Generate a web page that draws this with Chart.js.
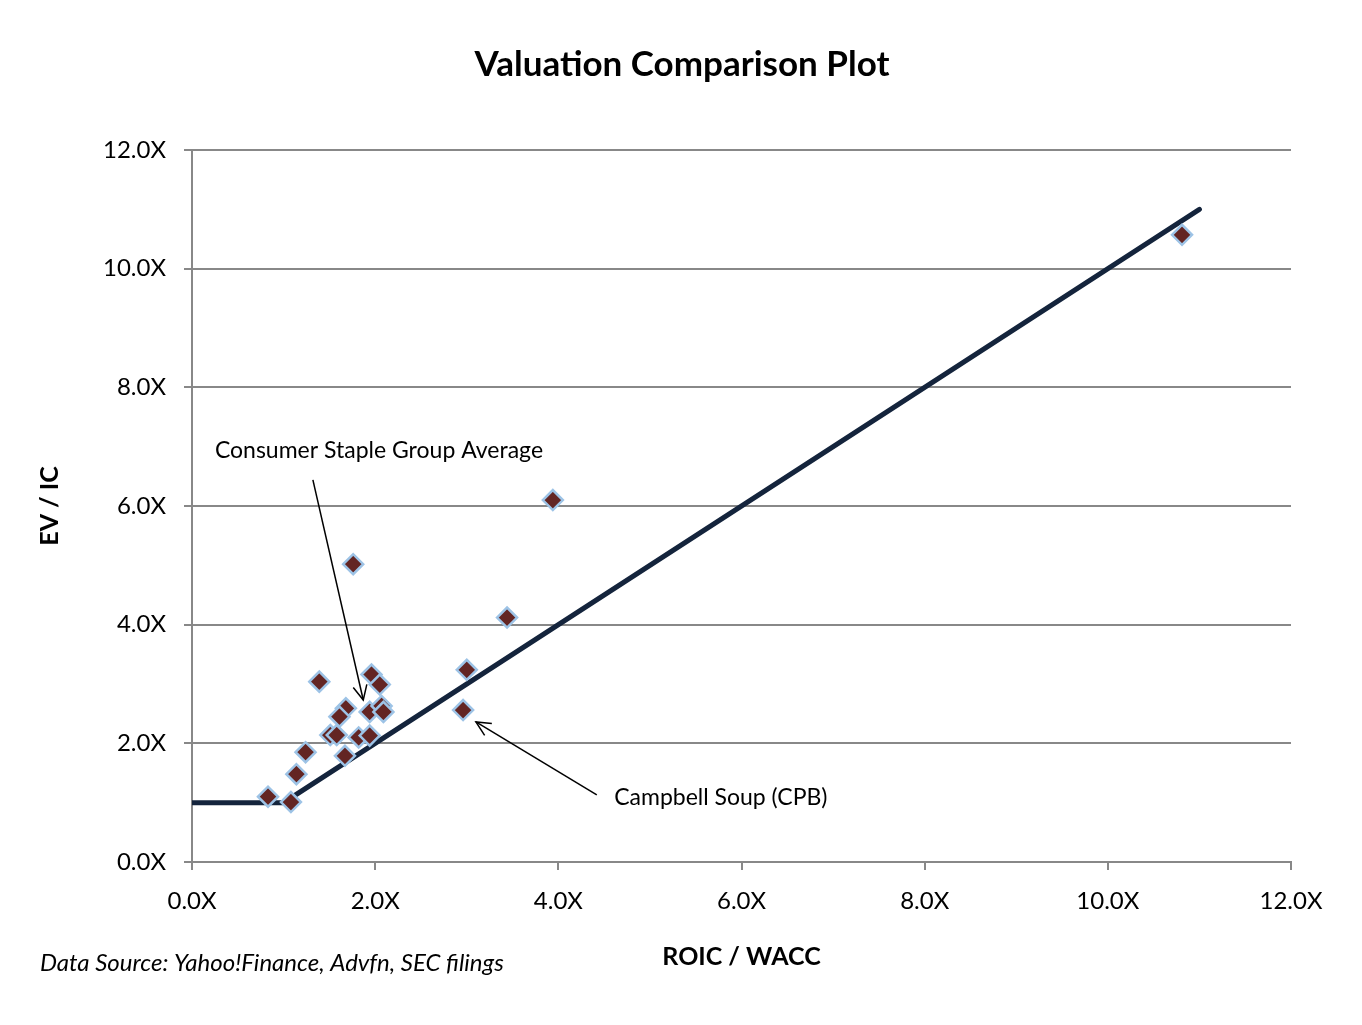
<!DOCTYPE html>
<html>
<head>
<meta charset="utf-8">
<title>Valuation Comparison Plot</title>
<script src="https://cdn.jsdelivr.net/npm/chart.js@4/dist/chart.umd.min.js"></script>
<style>
  html, body { margin: 0; padding: 0; background: #fff; }
  #wrap { width: 1362px; height: 1025px; position: relative; }
</style>
</head>
<body>
<div id="wrap"><canvas id="chart" width="1362" height="1025"></canvas></div>
<script>
/* ---------- Data ---------- */
const roicWacc = [1.76, 1.39, 1.96, 2.05, 1.68, 1.61, 1.94, 2.07, 2.09, 1.51, 1.58, 1.82, 1.94, 1.24, 1.67, 1.14, 0.83, 1.08, 3.00, 2.96, 3.94, 3.44, 10.81];
const evIc     = [5.02, 3.04, 3.16, 2.99, 2.59, 2.45, 2.53, 2.63, 2.53, 2.14, 2.14, 2.10, 2.13, 1.85, 1.79, 1.48, 1.10, 1.01, 3.24, 2.56, 6.10, 4.12, 10.57];

// fair-value line: EV/IC = max(1, ROIC/WACC)
const lineX = [0, 1, 11];
const lineY = [1, 1, 11];

const axisMin = 0, axisMax = 12, axisStep = 2;

// annotations: [label, textX, textY, arrowFromX, arrowFromY, arrowToX, arrowToY]
const notes = [
  ['Consumer Staple Group Average', 0.25, 6.93, 1.32, 6.44, 1.87, 2.73],
  ['Campbell Soup (CPB)',           4.61, 1.08, 4.42, 1.13, 3.10, 2.36]
];

const FONT = 'Lato, "Open Sans", sans-serif';
const fmt = v => v.toFixed(1) + 'X';

/* ---------- Plugins ---------- */
const textPlugin = {
  id: 'texts',
  afterDatasetsDraw(chart){
    const {ctx, scales:{x, y}} = chart;
    ctx.save();
    ctx.fillStyle = '#000';
    ctx.strokeStyle = '#000';
    ctx.lineWidth = 1.5;
    ctx.font = '23px ' + FONT;
    ctx.textBaseline = 'middle';
    ctx.textAlign = 'left';
    notes.forEach(n => {
      ctx.fillText(n[0], x.getPixelForValue(n[1]), y.getPixelForValue(n[2]));
      const x0 = x.getPixelForValue(n[3]), y0 = y.getPixelForValue(n[4]);
      const x1 = x.getPixelForValue(n[5]), y1 = y.getPixelForValue(n[6]);
      ctx.beginPath(); ctx.moveTo(x0, y0); ctx.lineTo(x1, y1); ctx.stroke();
      const a = Math.atan2(y1 - y0, x1 - x0), len = 16, spread = 0.45;
      ctx.beginPath();
      ctx.moveTo(x1 - len*Math.cos(a - spread), y1 - len*Math.sin(a - spread));
      ctx.lineTo(x1, y1);
      ctx.lineTo(x1 - len*Math.cos(a + spread), y1 - len*Math.sin(a + spread));
      ctx.stroke();
    });

    // title + source
    ctx.textAlign = 'center';
    ctx.font = 'bold 35px ' + FONT;
    ctx.fillText('Valuation Comparison Plot', 682, 65);
    ctx.textAlign = 'left';
    ctx.font = 'italic 24px ' + FONT;
    ctx.fillText('Data Source: Yahoo!Finance, Advfn, SEC filings', 40, 963);
    ctx.restore();
  }
};

/* ---------- Chart ---------- */
const ctx = document.getElementById('chart').getContext('2d');
new Chart(ctx, {
  type: 'scatter',
  data: {
    datasets: [
      {
        label: 'Companies',
        data: roicWacc.map((v, i) => ({x: v, y: evIc[i]})),
        pointStyle: 'rectRot',
        pointRadius: 10,
        pointHoverRadius: 10,
        backgroundColor: '#632523',
        borderColor: '#9DC3E6',
        borderWidth: 2.5
      },
      {
        type: 'line',
        label: 'Fair value',
        data: lineX.map((v, i) => ({x: v, y: lineY[i]})),
        borderColor: '#14243C',
        borderWidth: 5,
        borderCapStyle: 'round',
        pointRadius: 0,
        fill: false,
        tension: 0
      }
    ]
  },
  options: {
    responsive: false,
    animation: false,
    layout: { padding: { left: 0, right: 71, top: 150, bottom: 0 } },
    plugins: {
      legend: { display: false },
      tooltip: { enabled: false }
    },
    scales: {
      x: {
        type: 'linear',
        min: axisMin, max: axisMax,
        afterFit(s){ s.height = 163; },
        ticks: { stepSize: axisStep, callback: fmt, padding: 17, color: '#000', font: { family: FONT, size: 24 }, maxRotation: 0 },
        grid: { drawOnChartArea: false, drawTicks: true, tickLength: 8, color: '#888', lineWidth: 2 },
        border: { color: '#888', width: 2 },
        title: { display: true, text: 'ROIC / WACC', color: '#000', font: { family: FONT, size: 25, weight: 'bold' }, padding: { top: 0, bottom: 53 } }
      },
      y: {
        type: 'linear',
        min: axisMin, max: axisMax,
        afterFit(s){ s.width = 192; },
        ticks: { stepSize: axisStep, callback: fmt, padding: 18, color: '#000', font: { family: FONT, size: 24 } },
        grid: { drawTicks: true, tickLength: 8, color: '#888', lineWidth: 2 },
        border: { color: '#888', width: 2 },
        title: { display: true, text: 'EV / IC', color: '#000', font: { family: FONT, size: 25, weight: 'bold' }, padding: { top: 35, bottom: 0 } }
      }
    }
  },
  plugins: [textPlugin]
});
</script>
</body>
</html>
